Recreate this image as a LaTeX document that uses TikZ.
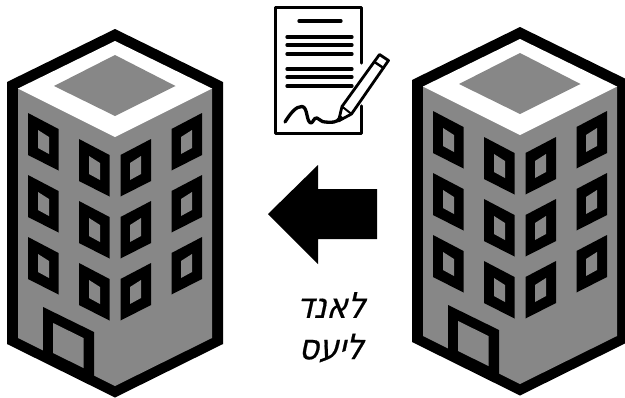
\documentclass[tikz,border=0pt]{standalone}
\usepackage{fontspec}
\setmainfont{DejaVu Sans}
\newfontfamily\hebfont[Script=Hebrew,FakeSlant=0.22,FakeStretch=0.9,FakeBold=0.5]{DejaVu Sans}
\TeXXeTstate=1
\definecolor{bgray}{HTML}{878787}
\tikzset{
  docline/.style={draw=black,line width=3.3pt,line cap=round,line join=round},
  hebtext/.style={inner sep=0pt,font=\hebfont\fontsize{35}{42}\selectfont},
  win/.pic={
    \fill[black] (0,0)--(30.5,16)--(30.5,57.5)--(0,42)--cycle;
    \fill[bgray] (10,17)--(21,24)--(21,41)--(10,35)--cycle;
  },
  winr/.pic={
    \fill[black] (0,0)--(-30.5,16)--(-30.5,57.5)--(0,42)--cycle;
    \fill[bgray] (-10,17)--(-21,24)--(-21,41)--(-10,35)--cycle;
  },
  building/.pic={
    % outline
    \fill[black] (115,29)--(223,82)--(223,344)--(115,397.5)--(7,344)--(7,82)--cycle;
    % walls
    \fill[bgray] (18,88)--(212,88)--(212,338)--(115,386)--(18,338)--cycle;
    % roof
    \fill[white] (115,41)--(212,88.5)--(115,137)--(18,88.5)--cycle;
    \fill[bgray] (115,55)--(175.5,86)--(115,116)--(54,86)--cycle;
    % windows
    \foreach \r in {0,62,124}{
      \pic at (28,113+\r) {win};
      \pic at (79,139+\r) {win};
      \pic at (202,113+\r) {winr};
      \pic at (151,139+\r) {winr};
    }
    % door
    \fill[black] (43,307)--(94,332)--(94,380)--(43,355)--cycle;
    \fill[bgray] (53,323)--(83.5,338)--(83.5,368)--(53,353)--cycle;
  }
}
\begin{document}
\begin{tikzpicture}[x=1pt,y=-1pt]
\useasboundingbox (0,0) rectangle (625,397);
\fill[white] (0,0) rectangle (625,397);
\pic at (0,0) {building};
\begin{scope}
\clip (0,0) rectangle (625,397);
\pic at (405,-2) {building};
\end{scope}
% document
\draw[docline] (361.5,63)--(361.5,7.5)--(275.5,7.5)--(275.5,133.5)--(361.5,133.5)--(361.5,106);
\foreach \yy in {37,45,54,69,77,86}{\draw[docline] (287,\yy)--(352,\yy);}
\draw[docline] (299,21)--(341,21);
% pen
\draw[docline,fill=white,line width=2.8pt] (379.5,54.5)--(388.5,60.5)--(351.5,114)--(338.5,121)--(342,106.5)--cycle;
\draw[docline,line width=2.4pt] (374.5,62)--(383.5,68);
\draw[docline,line width=2pt] (342,106.5)--(351.5,114);
\fill[black] (338,122)--(344.5,118.5)--(340,115)--cycle;
% signature
\draw[docline] (285,122) .. controls (290,114) and (296,106) .. (302,106.5)
  .. controls (308,107) and (306,122) .. (311,123)
  .. controls (313,123) and (314,117) .. (317,118)
  .. controls (320,119) and (321,122) .. (325,122)
  .. controls (331,122.5) and (337,123) .. (340,118);
% arrow
\fill[black] (268,214)--(318,165)--(318,189)--(377,189)--(377,239)--(318,239)--(318,264)--cycle;
% text
\node[hebtext] (lineone) at (331,305) {\beginR לאנד\endR};
\node[hebtext] (linetwo) at (331,348) {\beginR ליעס\endR};
\end{tikzpicture}
\end{document}
